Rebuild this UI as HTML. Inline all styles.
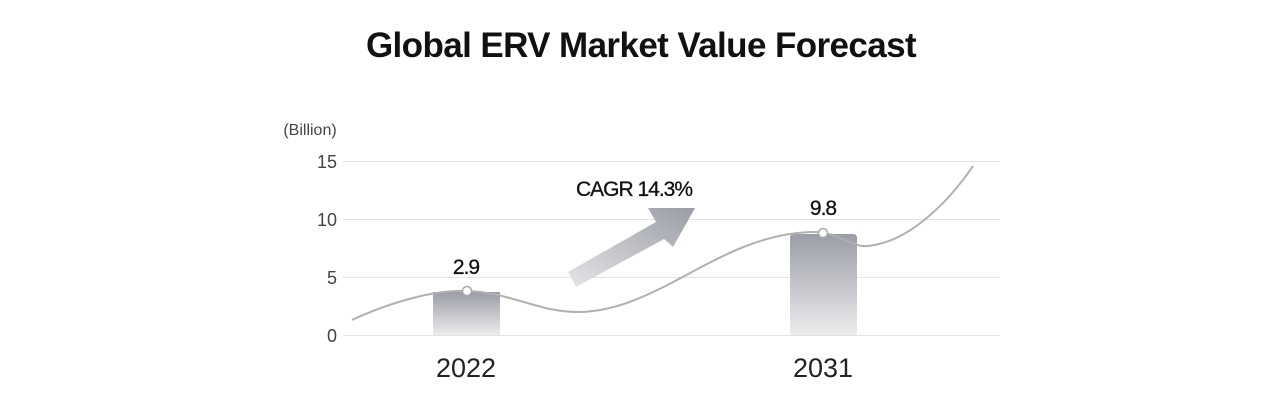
<!DOCTYPE html>
<html><head><meta charset="utf-8"><style>
html,body{margin:0;padding:0;background:#fff;}
svg{display:block;font-family:"Liberation Sans",sans-serif;}
</style></head><body>
<svg width="1284" height="406" viewBox="0 0 1284 406" xmlns="http://www.w3.org/2000/svg">
<defs>
<linearGradient id="bg" x1="0" y1="0" x2="0" y2="1">
<stop offset="0" stop-color="#9a9da6"/><stop offset="1" stop-color="#ececee"/>
</linearGradient>
<linearGradient id="ag" x1="1" y1="0" x2="0" y2="1">
<stop offset="0" stop-color="#9a9da6"/><stop offset="1" stop-color="#e4e4e6"/>
</linearGradient>
</defs>
<text x="641" y="57" text-anchor="middle" font-size="35" font-weight="bold" fill="#111" letter-spacing="-0.6">Global ERV Market Value Forecast</text>
<text x="310" y="135" text-anchor="middle" font-size="16" fill="#444">(Billion)</text>
<g stroke="#e3e3e3" stroke-width="1">
<line x1="343" y1="161.5" x2="1000" y2="161.5"/>
<line x1="343" y1="219.5" x2="1000" y2="219.5"/>
<line x1="343" y1="277.5" x2="1000" y2="277.5"/>
<line x1="343" y1="335.5" x2="1000" y2="335.5"/>
</g>
<g font-size="18" fill="#444" text-anchor="end">
<text x="337" y="168">15</text>
<text x="337" y="226">10</text>
<text x="337" y="284">5</text>
<text x="337" y="342">0</text>
</g>
<rect x="433" y="292" width="67" height="43" fill="url(#bg)"/>
<path d="M790 335 V238 Q790 234 794 234 H853 Q857 234 857 238 V335Z" fill="url(#bg)"/>
<polygon points="568,272 656,222 648,208 695,208 673,247 664,239 576,287" fill="url(#ag)"/>
<path d="M352 320 C400 298 440 290 467 291 C510 292 540 313 580 312 C660 310 720 235 810 232 C840 231 850 248 868 246 C910 242 950 200 973 166" fill="none" stroke="#b0b0b0" stroke-width="2"/>
<circle cx="467" cy="291" r="4.5" fill="#fff" stroke="#aaa" stroke-width="1.5"/>
<circle cx="823" cy="233" r="4.5" fill="#fff" stroke="#aaa" stroke-width="1.5"/>
<text x="466" y="274" text-anchor="middle" font-size="21" fill="#111" stroke="#111" stroke-width="0.3" letter-spacing="-1">2.9</text>
<text x="823" y="215" text-anchor="middle" font-size="21" fill="#111" stroke="#111" stroke-width="0.3" letter-spacing="-1">9.8</text>
<text x="634" y="196" text-anchor="middle" font-size="21" fill="#111" stroke="#111" stroke-width="0.3" letter-spacing="-1">CAGR 14.3%</text>
<text x="466" y="377" text-anchor="middle" font-size="27" fill="#222">2022</text>
<text x="823" y="377" text-anchor="middle" font-size="27" fill="#222">2031</text>
</svg>
</body></html>
